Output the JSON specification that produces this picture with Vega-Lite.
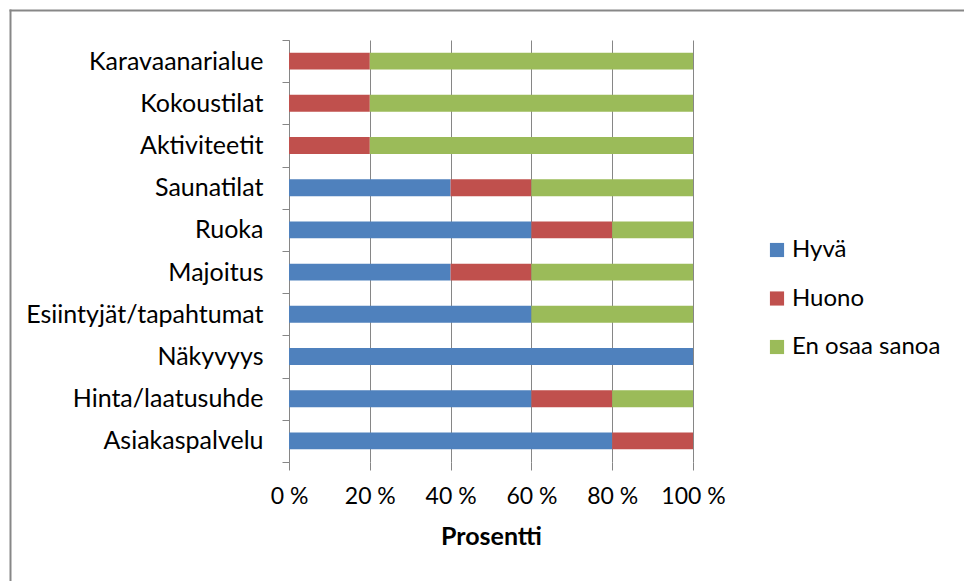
{
  "$schema": "https://vega.github.io/schema/vega-lite/v6.json",
  "width": 404,
  "height": 422,
  "autosize": {"type": "none"},
  "padding": {"left": 289, "top": 40, "right": 271, "bottom": 119},
  "background": "white",
  "config": {
    "font": "Lato",
    "view": {"stroke": null},
    "axis": {"labelColor": "#000000", "titleColor": "#000000", "labelFont": "Lato", "titleFont": "Lato"},
    "legend": {"labelColor": "#000000", "labelFont": "Lato"}
  },
  "layer": [
    {
      "data": {
        "values": [
          {"kohde": "Karavaanarialue", "vastaus": "Huono", "jarj": 2, "osuus": 20},
          {"kohde": "Karavaanarialue", "vastaus": "En osaa sanoa", "jarj": 3, "osuus": 80},
          {"kohde": "Kokoustilat", "vastaus": "Huono", "jarj": 2, "osuus": 20},
          {"kohde": "Kokoustilat", "vastaus": "En osaa sanoa", "jarj": 3, "osuus": 80},
          {"kohde": "Aktiviteetit", "vastaus": "Huono", "jarj": 2, "osuus": 20},
          {"kohde": "Aktiviteetit", "vastaus": "En osaa sanoa", "jarj": 3, "osuus": 80},
          {"kohde": "Saunatilat", "vastaus": "Hyvä", "jarj": 1, "osuus": 40},
          {"kohde": "Saunatilat", "vastaus": "Huono", "jarj": 2, "osuus": 20},
          {"kohde": "Saunatilat", "vastaus": "En osaa sanoa", "jarj": 3, "osuus": 40},
          {"kohde": "Ruoka", "vastaus": "Hyvä", "jarj": 1, "osuus": 60},
          {"kohde": "Ruoka", "vastaus": "Huono", "jarj": 2, "osuus": 20},
          {"kohde": "Ruoka", "vastaus": "En osaa sanoa", "jarj": 3, "osuus": 20},
          {"kohde": "Majoitus", "vastaus": "Hyvä", "jarj": 1, "osuus": 40},
          {"kohde": "Majoitus", "vastaus": "Huono", "jarj": 2, "osuus": 20},
          {"kohde": "Majoitus", "vastaus": "En osaa sanoa", "jarj": 3, "osuus": 40},
          {"kohde": "Esiintyjät/tapahtumat", "vastaus": "Hyvä", "jarj": 1, "osuus": 60},
          {"kohde": "Esiintyjät/tapahtumat", "vastaus": "En osaa sanoa", "jarj": 3, "osuus": 40},
          {"kohde": "Näkyvyys", "vastaus": "Hyvä", "jarj": 1, "osuus": 100},
          {"kohde": "Hinta/laatusuhde", "vastaus": "Hyvä", "jarj": 1, "osuus": 60},
          {"kohde": "Hinta/laatusuhde", "vastaus": "Huono", "jarj": 2, "osuus": 20},
          {"kohde": "Hinta/laatusuhde", "vastaus": "En osaa sanoa", "jarj": 3, "osuus": 20},
          {"kohde": "Asiakaspalvelu", "vastaus": "Hyvä", "jarj": 1, "osuus": 80},
          {"kohde": "Asiakaspalvelu", "vastaus": "Huono", "jarj": 2, "osuus": 20}
        ]
      },
      "mark": {"type": "bar", "height": {"band": 0.4}},
      "encoding": {
        "y": {
          "field": "kohde",
          "type": "nominal",
          "sort": ["Karavaanarialue", "Kokoustilat", "Aktiviteetit", "Saunatilat", "Ruoka", "Majoitus", "Esiintyjät/tapahtumat", "Näkyvyys", "Hinta/laatusuhde", "Asiakaspalvelu"],
          "scale": {"paddingInner": 0, "paddingOuter": 0},
          "axis": {
            "title": null,
            "orient": "left",
            "tickBand": "extent",
            "domain": true,
            "domainColor": "#868686",
            "domainWidth": 1,
            "tickColor": "#868686",
            "tickSize": 7,
            "labelPadding": 19,
            "labelFontSize": 25,
            "labelLimit": 0,
            "grid": false
          }
        },
        "x": {
          "field": "osuus",
          "type": "quantitative",
          "stack": "zero",
          "scale": {"domain": [0, 100], "nice": false},
          "axis": {
            "orient": "bottom",
            "values": [0, 20, 40, 60, 80, 100],
            "labelExpr": "datum.value + ' %'",
            "domain": false,
            "grid": true,
            "gridColor": "#868686",
            "gridWidth": 1,
            "tickColor": "#868686",
            "tickSize": 8,
            "labelPadding": 15,
            "labelFontSize": 23,
            "labelFlush": false,
            "title": "Prosentti",
            "titleFontSize": 25,
            "titleFontWeight": "bold",
            "titlePadding": 16
          }
        },
        "color": {
          "field": "vastaus",
          "type": "nominal",
          "scale": {
            "domain": ["Hyvä", "Huono", "En osaa sanoa"],
            "range": ["#4F81BD", "#C0504D", "#9BBB59"]
          },
          "legend": {
            "title": null,
            "orient": "none",
            "legendX": 476,
            "legendY": 198,
            "symbolType": "square",
            "symbolSize": 200,
            "symbolStrokeWidth": 0,
            "labelFontSize": 24,
            "labelOffset": 3,
            "labelLimit": 0,
            "rowPadding": 24.5
          }
        },
        "order": {"field": "jarj", "type": "quantitative"}
      }
    },
    {
      "data": {"values": [{"reuna": 0}]},
      "mark": {"type": "point", "opacity": 0},
      "encoding": {
        "x": {
          "field": "reuna",
          "type": "quantitative",
          "scale": {"domain": [0, 1], "range": [-280, 700]},
          "axis": {"orient": "top", "offset": 30, "domainColor": "#878787", "domainWidth": 2, "ticks": false, "labels": false, "grid": false, "title": null}
        },
        "y": {
          "field": "reuna",
          "type": "quantitative",
          "scale": {"domain": [0, 1], "range": [600, -31]},
          "axis": {"orient": "left", "offset": 279, "domainColor": "#878787", "domainWidth": 2, "ticks": false, "labels": false, "grid": false, "title": null}
        }
      }
    }
  ],
  "resolve": {
    "scale": {"x": "independent", "y": "independent", "color": "independent"},
    "axis": {"x": "independent", "y": "independent"}
  }
}
